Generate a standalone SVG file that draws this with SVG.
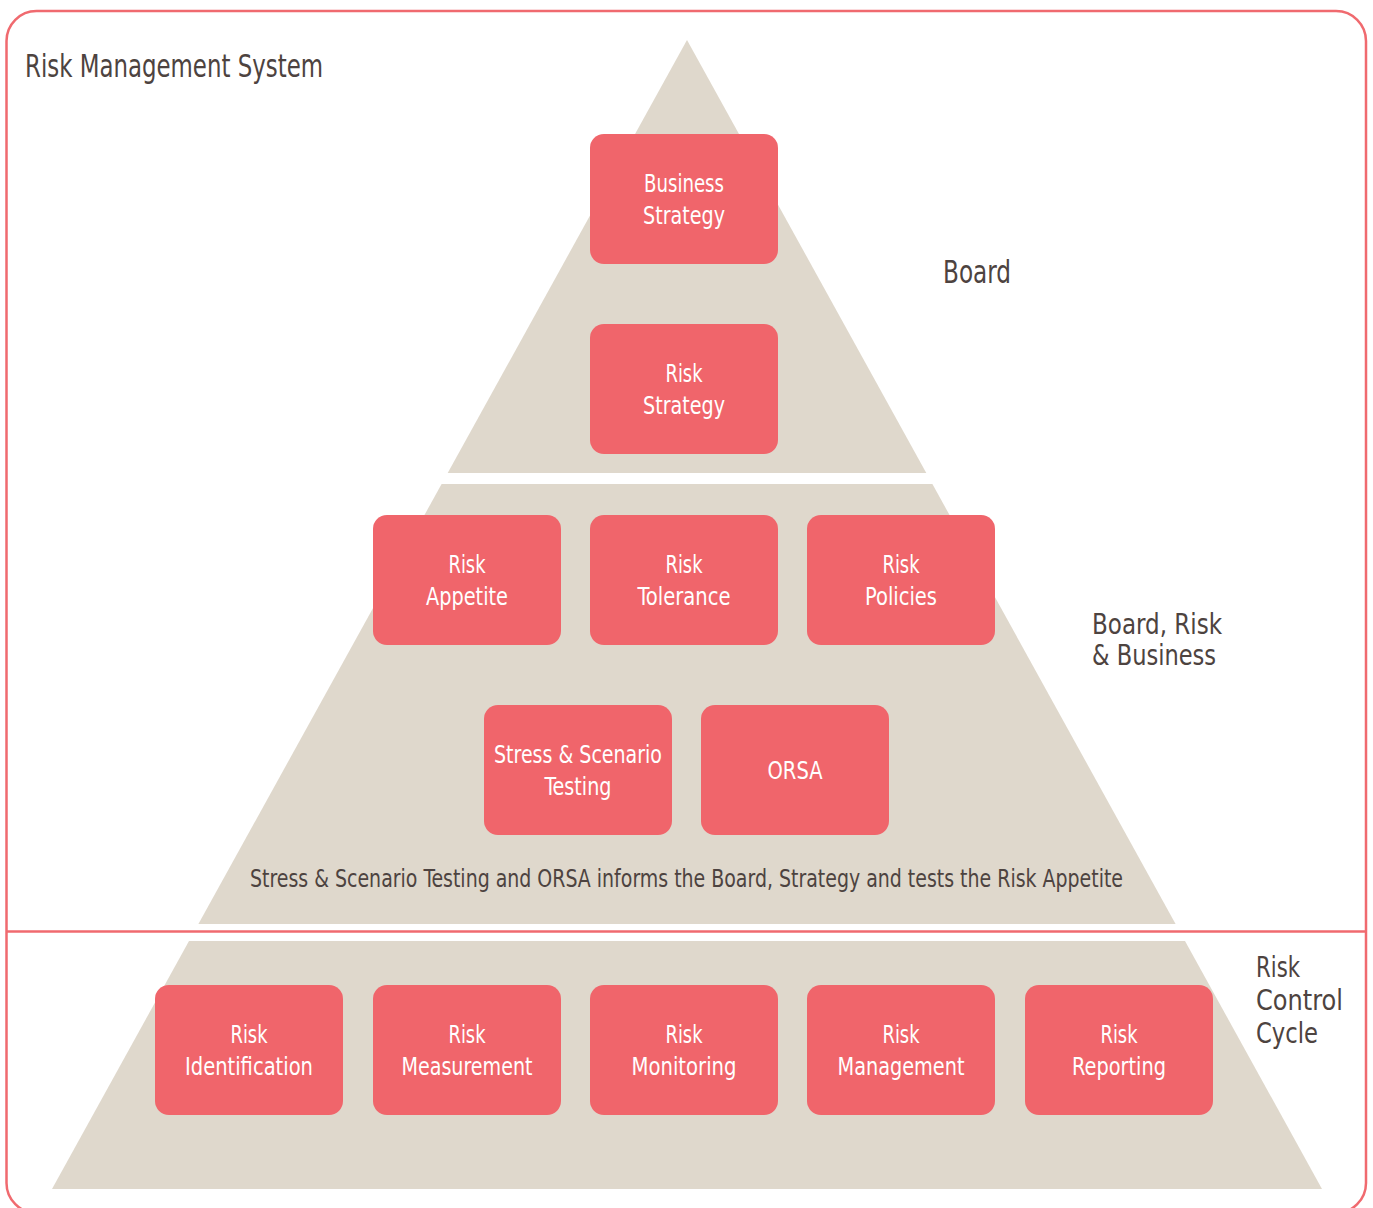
<svg xmlns="http://www.w3.org/2000/svg" width="1373" height="1208" viewBox="0 0 1373 1208">
<style>
.frame{fill:none;stroke:#f06a6f;stroke-width:2.5}
.tier{fill:#dfd8cc}
.box{fill:#f0656b}
.bt{font-family:'DejaVu Sans Condensed','DejaVu Sans',sans-serif;font-stretch:condensed;font-size:25px;fill:#ffffff;text-anchor:middle}
.lb{font-family:'DejaVu Sans Condensed','DejaVu Sans',sans-serif;font-stretch:condensed;font-size:32px;fill:#4d4340}
.ml{font-family:'DejaVu Sans Condensed','DejaVu Sans',sans-serif;font-stretch:condensed;font-size:29px;fill:#4d4340}
.cap{font-family:'DejaVu Sans Condensed','DejaVu Sans',sans-serif;font-stretch:condensed;font-size:25px;fill:#4d4340}
</style>
<rect x="0" y="0" width="1373" height="1208" fill="#ffffff"/>
<rect class="frame" x="6.5" y="11" width="1359.5" height="1202" rx="30" ry="30"/>
<line class="frame" x1="6.5" y1="931.5" x2="1366" y2="931.5"/>
<g id="tiers">
<polygon id="tier-board" class="tier" points="687,40 926.3,473 447.7,473"/>
<polygon id="tier-brb" class="tier" points="441.6,484 932.4,484 1175.6,924 198.4,924"/>
<polygon id="tier-rcc" class="tier" points="189,941 1185,941 1322,1189 52,1189"/>
</g>
<g id="labels">
<text class="lb" x="25" y="77" textLength="298" lengthAdjust="spacingAndGlyphs">Risk Management System</text>
<text class="lb" x="943" y="283" textLength="68" lengthAdjust="spacingAndGlyphs">Board</text>
<text class="ml" x="1092" y="634" textLength="130" lengthAdjust="spacingAndGlyphs">Board, Risk</text>
<text class="ml" x="1092" y="665" textLength="124" lengthAdjust="spacingAndGlyphs">&amp; Business</text>
<text class="ml" x="1256" y="977" textLength="44" lengthAdjust="spacingAndGlyphs">Risk</text>
<text class="ml" x="1256" y="1010" textLength="87" lengthAdjust="spacingAndGlyphs">Control</text>
<text class="ml" x="1256" y="1043" textLength="62" lengthAdjust="spacingAndGlyphs">Cycle</text>
<text class="cap" x="250" y="887" textLength="873" lengthAdjust="spacingAndGlyphs">Stress &amp; Scenario Testing and ORSA informs the Board, Strategy and tests the Risk Appetite</text>
</g>
<g id="connectors"></g>
<g id="business-strategy">
<rect class="box" x="590" y="134" width="188" height="130" rx="14"/>
<text class="bt" x="684" y="192" textLength="80" lengthAdjust="spacingAndGlyphs">Business</text>
<text class="bt" x="684" y="224" textLength="82" lengthAdjust="spacingAndGlyphs">Strategy</text>
</g>
<g id="risk-strategy">
<rect class="box" x="590" y="324" width="188" height="130" rx="14"/>
<text class="bt" x="684" y="382" textLength="37" lengthAdjust="spacingAndGlyphs">Risk</text>
<text class="bt" x="684" y="414" textLength="82" lengthAdjust="spacingAndGlyphs">Strategy</text>
</g>
<g id="risk-appetite">
<rect class="box" x="373" y="515" width="188" height="130" rx="14"/>
<text class="bt" x="467" y="573" textLength="37" lengthAdjust="spacingAndGlyphs">Risk</text>
<text class="bt" x="467" y="605" textLength="82" lengthAdjust="spacingAndGlyphs">Appetite</text>
</g>
<g id="risk-tolerance">
<rect class="box" x="590" y="515" width="188" height="130" rx="14"/>
<text class="bt" x="684" y="573" textLength="37" lengthAdjust="spacingAndGlyphs">Risk</text>
<text class="bt" x="684" y="605" textLength="93" lengthAdjust="spacingAndGlyphs">Tolerance</text>
</g>
<g id="risk-policies">
<rect class="box" x="807" y="515" width="188" height="130" rx="14"/>
<text class="bt" x="901" y="573" textLength="37" lengthAdjust="spacingAndGlyphs">Risk</text>
<text class="bt" x="901" y="605" textLength="72" lengthAdjust="spacingAndGlyphs">Policies</text>
</g>
<g id="stress-testing">
<rect class="box" x="484" y="705" width="188" height="130" rx="14"/>
<text class="bt" x="578" y="763" textLength="168" lengthAdjust="spacingAndGlyphs">Stress &amp; Scenario</text>
<text class="bt" x="578" y="795" textLength="67" lengthAdjust="spacingAndGlyphs">Testing</text>
</g>
<g id="orsa">
<rect class="box" x="701" y="705" width="188" height="130" rx="14"/>
<text class="bt" x="795" y="779" textLength="55" lengthAdjust="spacingAndGlyphs">ORSA</text>
</g>
<g id="risk-identification">
<rect class="box" x="155" y="985" width="188" height="130" rx="14"/>
<text class="bt" x="249" y="1043" textLength="37" lengthAdjust="spacingAndGlyphs">Risk</text>
<text class="bt" x="249" y="1075" textLength="128" lengthAdjust="spacingAndGlyphs">Identification</text>
</g>
<g id="risk-measurement">
<rect class="box" x="373" y="985" width="188" height="130" rx="14"/>
<text class="bt" x="467" y="1043" textLength="37" lengthAdjust="spacingAndGlyphs">Risk</text>
<text class="bt" x="467" y="1075" textLength="131" lengthAdjust="spacingAndGlyphs">Measurement</text>
</g>
<g id="risk-monitoring">
<rect class="box" x="590" y="985" width="188" height="130" rx="14"/>
<text class="bt" x="684" y="1043" textLength="37" lengthAdjust="spacingAndGlyphs">Risk</text>
<text class="bt" x="684" y="1075" textLength="105" lengthAdjust="spacingAndGlyphs">Monitoring</text>
</g>
<g id="risk-management">
<rect class="box" x="807" y="985" width="188" height="130" rx="14"/>
<text class="bt" x="901" y="1043" textLength="37" lengthAdjust="spacingAndGlyphs">Risk</text>
<text class="bt" x="901" y="1075" textLength="127" lengthAdjust="spacingAndGlyphs">Management</text>
</g>
<g id="risk-reporting">
<rect class="box" x="1025" y="985" width="188" height="130" rx="14"/>
<text class="bt" x="1119" y="1043" textLength="37" lengthAdjust="spacingAndGlyphs">Risk</text>
<text class="bt" x="1119" y="1075" textLength="94" lengthAdjust="spacingAndGlyphs">Reporting</text>
</g>
</svg>
